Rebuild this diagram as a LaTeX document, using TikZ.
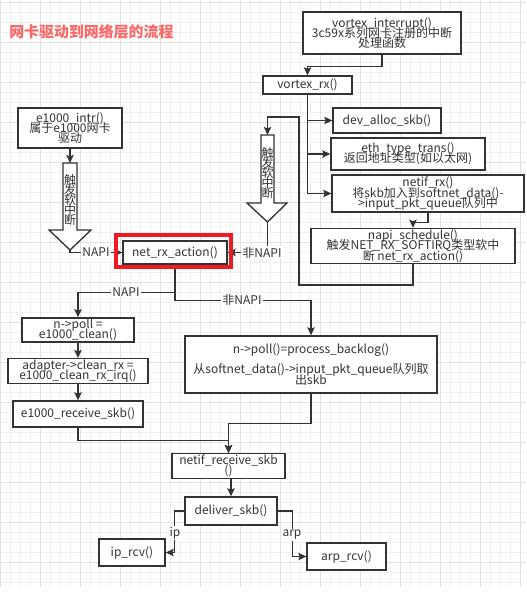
\documentclass[tikz,border=0pt]{standalone}
\usepackage{fontspec}
\setmainfont{Noto Sans CJK SC}
\usetikzlibrary{arrows.meta}
\usetikzlibrary{calc}
\definecolor{lineclr}{RGB}{51,51,51}
\definecolor{titleclr}{RGB}{255,102,102}
\definecolor{frameclr}{RGB}{237,28,36}
\definecolor{gridminor}{RGB}{240,240,240}
\definecolor{gridmajor}{RGB}{225,225,225}

\begin{document}
\setlength{\lineskiplimit}{-100pt}
\begin{tikzpicture}[x=0.75pt,y=0.75pt,yscale=-1,xscale=1,
  boxsize/.style 2 args={minimum width=#1*0.75pt,minimum height=#2*0.75pt},
  box/.style={draw=lineclr,line width=1pt,fill=white,inner sep=0.75pt,align=center,text=lineclr,font=\fontsize{9pt}{7.8pt}\selectfont},
  link/.style={draw=lineclr,line width=1pt,-{Stealth[length=6pt,width=5.5pt,inset=1pt]}},
  tag/.style={fill=white,inner sep=0.75pt,text=lineclr,font=\fontsize{9pt}{9pt}\selectfont},
  blockarrow/.style={draw=lineclr,line width=1pt,fill=white,line join=miter},
  vtext/.style={inner sep=0pt,align=center,text=lineclr,font=\fontsize{9pt}{7.5pt}\selectfont}]
\useasboundingbox (0,0) rectangle (526,600);

%Grid
\foreach \gx in {0,10,...,520} \draw[gridminor,line width=0.75pt] (\gx,0) -- (\gx,587);
\foreach \gy in {2,12,...,582} \draw[gridminor,line width=0.75pt] (0,\gy) -- (526,\gy);
\foreach \gx in {0,40,...,520} \draw[gridmajor,line width=0.75pt] (\gx,0) -- (\gx,587);
\foreach \gy in {2,42,...,562} \draw[gridmajor,line width=0.75pt] (0,\gy) -- (526,\gy);

% Text Node
\node[anchor=west,inner sep=0.75pt,text=titleclr,font=\fontsize{11.2pt}{12pt}\selectfont\bfseries] (title) at (8,32) {网卡驱动到网络层的流程};

%Shape: Rectangle
\node[box,boxsize={158}{42}] (vint) at (382,33) {vortex\_interrupt()\\3c59x系列网卡注册的中断\\处理函数};
\node[box,boxsize={89}{18}] (vrx) at (307.5,85) {vortex\_rx()};
\node[box,boxsize={108}{25}] (dalloc) at (387,120.5) {dev\_alloc\_skb()};
\node[box,boxsize={154}{32}] (eth) at (408,154) {eth\_type\_trans()\\返回地址类型(如以太网)};
\node[box,boxsize={192}{37}] (netifrx) at (428,193.5) {netif\_rx()\\将skb加入到softnet\_data()-\\>input\_pkt\_queue队列中};
\node[box,boxsize={204}{32}] (napi) at (413,246) {napi\_schedule()\\触发NET\_RX\_SOFTIRQ类型软中\\断 net\_rx\_action()};
\node[box,boxsize={104}{40}] (e1000intr) at (70,128) {e1000\_intr()\\属于e1000网卡\\驱动};
\node[box,boxsize={104}{23}] (netrx) at (175,252.5) {net\_rx\_action()};
\node[box,boxsize={112}{24}] (npoll) at (78,330) {n->poll =\\e1000\_clean()};
\node[box,boxsize={140}{24}] (adapter) at (78,371) {adapter->clean\_rx =\\e1000\_clean\_rx\_irq()};
\node[box,boxsize={130}{26}] (e1000rs) at (78,414) {e1000\_receive\_skb()};
\node[box,boxsize={252}{57}] (backlog) at (311,364.5) {n->poll()=process\_backlog()\\[7.5pt]从softnet\_data()->input\_pkt\_queue队列取\\出skb};
\node[box,boxsize={113}{22}] (netifrs) at (228.5,466) {netif\_receive\_skb\\()};
\node[box,boxsize={92}{28}] (deliver) at (231,511) {deliver\_skb()};
\node[box,boxsize={66}{27}] (iprcv) at (132,552.5) {ip\_rcv()};
\node[box,boxsize={79}{27}] (arprcv) at (346.5,556.5) {arp\_rcv()};

%Shape: Down Arrow
\coordinate (ltail) at (70,163);
\coordinate (ltip) at (70,250);
\draw[blockarrow] (63,163) -- (77,163) -- (77,230) -- (91,230) -- (ltip) -- (49,230) -- (63,230) -- cycle;
\node[vtext] (ltext) at (70,200) {触\\发\\软\\中\\断};
%Shape: Down Arrow
\coordinate (rtail) at (267.5,135);
\coordinate (rtip) at (267.5,222);
\draw[blockarrow] (261,135) -- (274,135) -- (274,203) -- (287,203) -- (rtip) -- (247,203) -- (261,203) -- cycle;
\node[vtext] (rtext) at (267.5,173) {触\\发\\软\\中\\断};

%Straight Lines
\draw[link] (vint.south) -- ++(0,12) -| (vrx.north);
\draw[link] (vrx.south) |- (dalloc.west);
\draw[link] (vrx.south) |- (eth.west);
\draw[link] (vrx.south) |- (netifrx.west);
\draw[link] (netifrx.south) -- ++(0,10) -| (napi.north);
\draw[link] (napi.south) -- ++(0,21) -- ++(-114,0) -- ++(0,-168) -| (rtail);
\draw[link] (e1000intr.south) -- (ltail);
\draw[link] (ltip) |- (netrx.west);
\draw[link] (rtip) |- (netrx.east);
\draw[link] (netrx.south) -- ++(0,28) -| (npoll.north);
\draw[link] (netrx.south) -- ++(0,36) -| (backlog.north);
\draw[link] (npoll) -- (adapter);
\draw[link] (adapter) -- (e1000rs);
\draw[link] (e1000rs.south) -- ++(0,13) -| (netifrs.north);
\draw[link] (backlog.south) -- ++(0,30) -| (netifrs.north);
\draw[link] (deliver.north |- netifrs.south) -- (deliver.north);
\draw[link] (deliver.west) -- ++(-10,0) |- (iprcv.east);
\draw[link] (deliver.east) -- ++(15,0) |- (arprcv.west);

% Text Node
\node[tag] (lnapi) at (96,252.5) {NAPI};
\node[tag] (rnapi) at (262,252.5) {非NAPI};
\node[tag] (dnapi) at (126,292) {NAPI};
\node[tag] (dfei) at (242,300) {非NAPI};
\node[tag] (lip) at (175,533) {ip};
\node[tag] (larp) at (292,535) {arp};

%Shape: Rectangle
\draw[frameclr,line width=3pt] ($(netrx.north west)+(-6,-5.5)$) rectangle ($(netrx.south east)+(3,2)$);

\end{tikzpicture}
\end{document}
